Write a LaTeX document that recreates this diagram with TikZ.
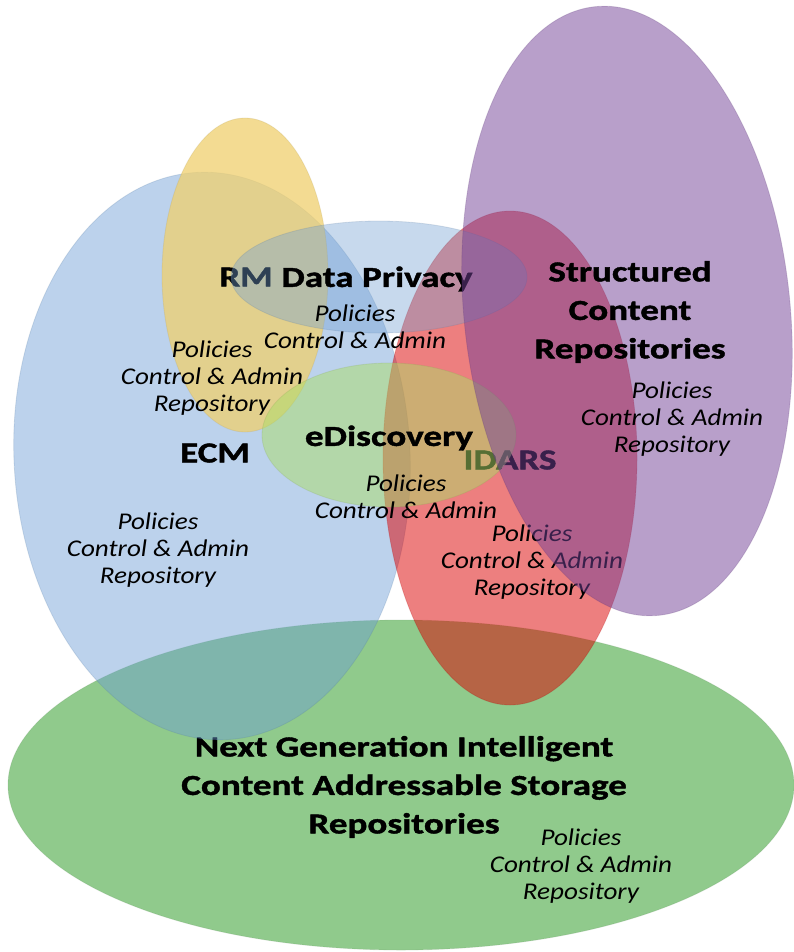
\documentclass[tikz,border=0pt]{standalone}
\usepackage{fontspec}
\newfontfamily\lblfam[FakeStretch=1.28, BoldFeatures={FakeBold=1.4}]{Carlito}
\newfontfamily\polfam[FakeStretch=1.13]{Carlito}
\definecolor{ngreen}{RGB}{144,202,140}
\definecolor{ecmblue}{RGB}{107,157,213}
\definecolor{idred}{RGB}{221,0,0}
\definecolor{rmyellow}{RGB}{240,208,110}
\definecolor{dpblue}{RGB}{117,162,212}
\definecolor{edgreen}{RGB}{172,220,104}
\definecolor{scpurple}{RGB}{115,65,151}
\tikzset{
  blob/.style={fill=#1, draw=#1!75!black, draw opacity=0.2, line width=0.8pt},
  lbl/.style={font=\lblfam\bfseries\fontsize{29}{38.5}\selectfont, align=center, inner sep=0pt, text=black},
  pol/.style={font=\polfam\itshape\fontsize{24}{27}\selectfont, align=center, inner sep=0pt, text=black}
}
\begin{document}
\begin{tikzpicture}[x=1pt,y=-1pt]
\path[use as bounding box, fill=white] (0,0) rectangle (793,952);
% bottom storage ellipse
\path[blob=ngreen] (401,785) ellipse [x radius=393pt, y radius=165pt];
\node[lbl] (t-ng) at (404,787) {Next Generation Intelligent\\Content Addressable Storage\\Repositories};
\node[pol] (p-ng) at (581,866) {Policies\\Control \& Admin\\Repository};
% ECM
\path[blob=ecmblue, fill opacity=0.45, rotate around={3:(212,456)}] (212,456) ellipse [x radius=198pt, y radius=284pt];
\node[lbl] (t-ecm) at (215,453) {ECM};
\node[pol] (p-ecm) at (158,550) {Policies\\Control \& Admin\\Repository};
% IDARS
\path[blob=idred, fill opacity=0.5] (510,458) ellipse [x radius=127pt, y radius=247pt];
\node[lbl] (t-idars) at (510,460) {IDARS};
\node[pol] (p-idars) at (532,562) {Policies\\Control \& Admin\\Repository};
% RM
\path[blob=rmyellow, fill opacity=0.75] (245,275) ellipse [x radius=83pt, y radius=157pt];
\node[lbl] (t-rm) at (246,277) {RM};
\node[pol] (p-rm) at (212,378) {Policies\\Control \& Admin\\Repository};
% Data Privacy
\path[blob=dpblue, fill opacity=0.4] (379,277) ellipse [x radius=148pt, y radius=56pt];
\node[lbl] (t-dp) at (377,279) {Data Privacy};
\node[pol] (p-dp) at (355,327) {Policies\\Control \& Admin};
% eDiscovery
\path[blob=edgreen, fill opacity=0.5] (389,435) ellipse [x radius=127pt, y radius=72pt];
\node[lbl] (t-ed) at (389,438) {eDiscovery};
\node[pol] (p-ed) at (406,497) {Policies\\Control \& Admin};
% Structured content
\path[blob=scpurple, fill opacity=0.5, rotate around={6:(627,311)}] (627,311) ellipse [x radius=163pt, y radius=306pt];
\node[lbl] (t-sc) at (630,312) {Structured\\Content\\Repositories};
\node[pol] (p-sc) at (672,419) {Policies\\Control \& Admin\\Repository};
\end{tikzpicture}
\end{document}
